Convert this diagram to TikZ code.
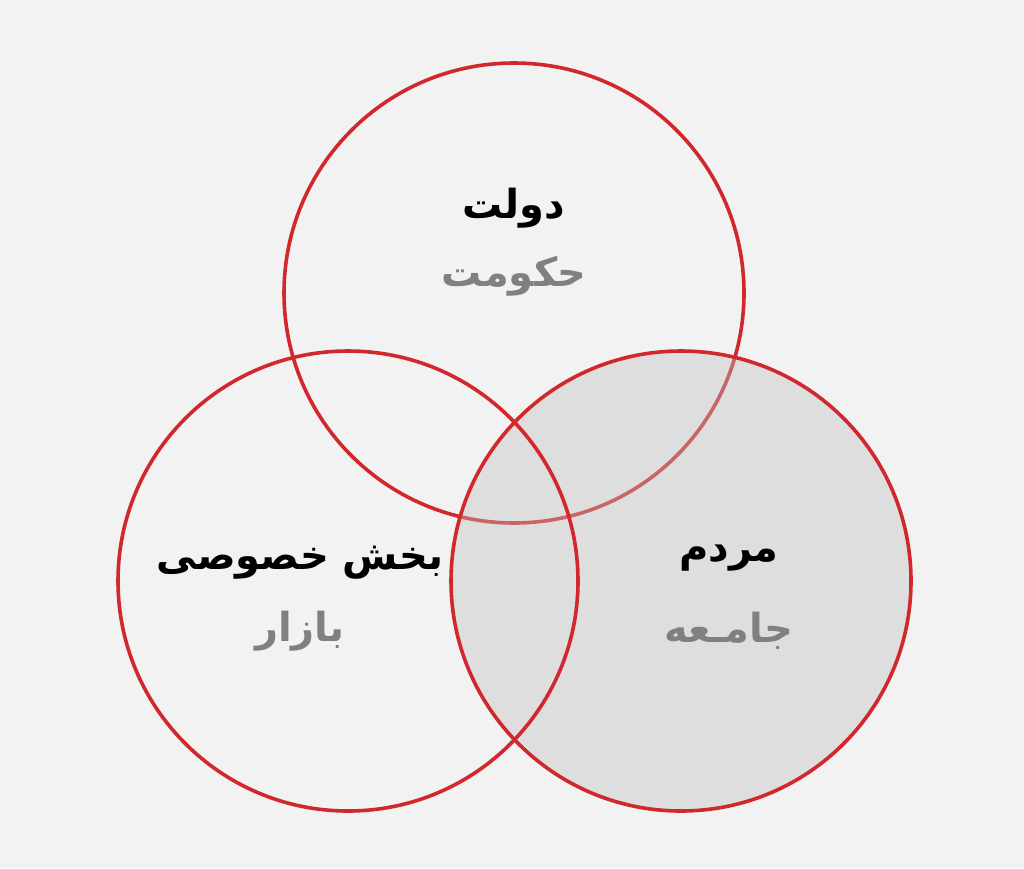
\documentclass[tikz,border=0pt]{standalone}
\usepackage{fontspec}
\usepackage{xcolor}
\usepackage{tikz}
\TeXXeTstate=1
\newfontfamily\arabicfont[Script=Arabic]{DejaVu Sans}
\definecolor{venn-red}{RGB}{208,40,44}
\definecolor{venn-bg}{RGB}{242,242,242}
\definecolor{venn-fill}{RGB}{192,192,192}
\definecolor{venn-grey}{RGB}{128,128,128}
\tikzset{
    venn-circle/.style = {draw=venn-red, line width=3.6pt, circle, minimum size=460pt, inner sep=0pt},
    venn-title/.style = {text=black, font=\arabicfont\bfseries\fontsize{40}{46}\selectfont},
    venn-subtitle/.style = {text=venn-grey, font=\arabicfont\bfseries\fontsize{40}{46}\selectfont},
}

\begin{document}
\begin{tikzpicture}[x=1pt, y=-1pt]
\fill[venn-bg] (0,0) rectangle (1024,868);
\useasboundingbox (0,0) rectangle (1024,868);
% the three circles
\node[venn-circle] (state) at (514,293) {};
\node[venn-circle, fill=venn-fill, fill opacity=0.4] (people) at (681,581) {};
\node[venn-circle] (market) at (348,581) {};
% labels
\node[venn-title] (state-name) at (514,208) {\beginR دولت\endR};
\node[venn-subtitle] (state-alt) at (514,276) {\beginR حکومت\endR};
\node[venn-title] (market-name) at (300,563) {\beginR بخش خصوصی\endR};
\node[venn-subtitle] (market-alt) at (300,631) {\beginR بازار\endR};
\node[venn-title] (people-name) at (729,558) {\beginR مردم\endR};
\node[venn-subtitle] (people-alt) at (729,631) {\beginR جامـعه\endR};
\end{tikzpicture}
\end{document}
